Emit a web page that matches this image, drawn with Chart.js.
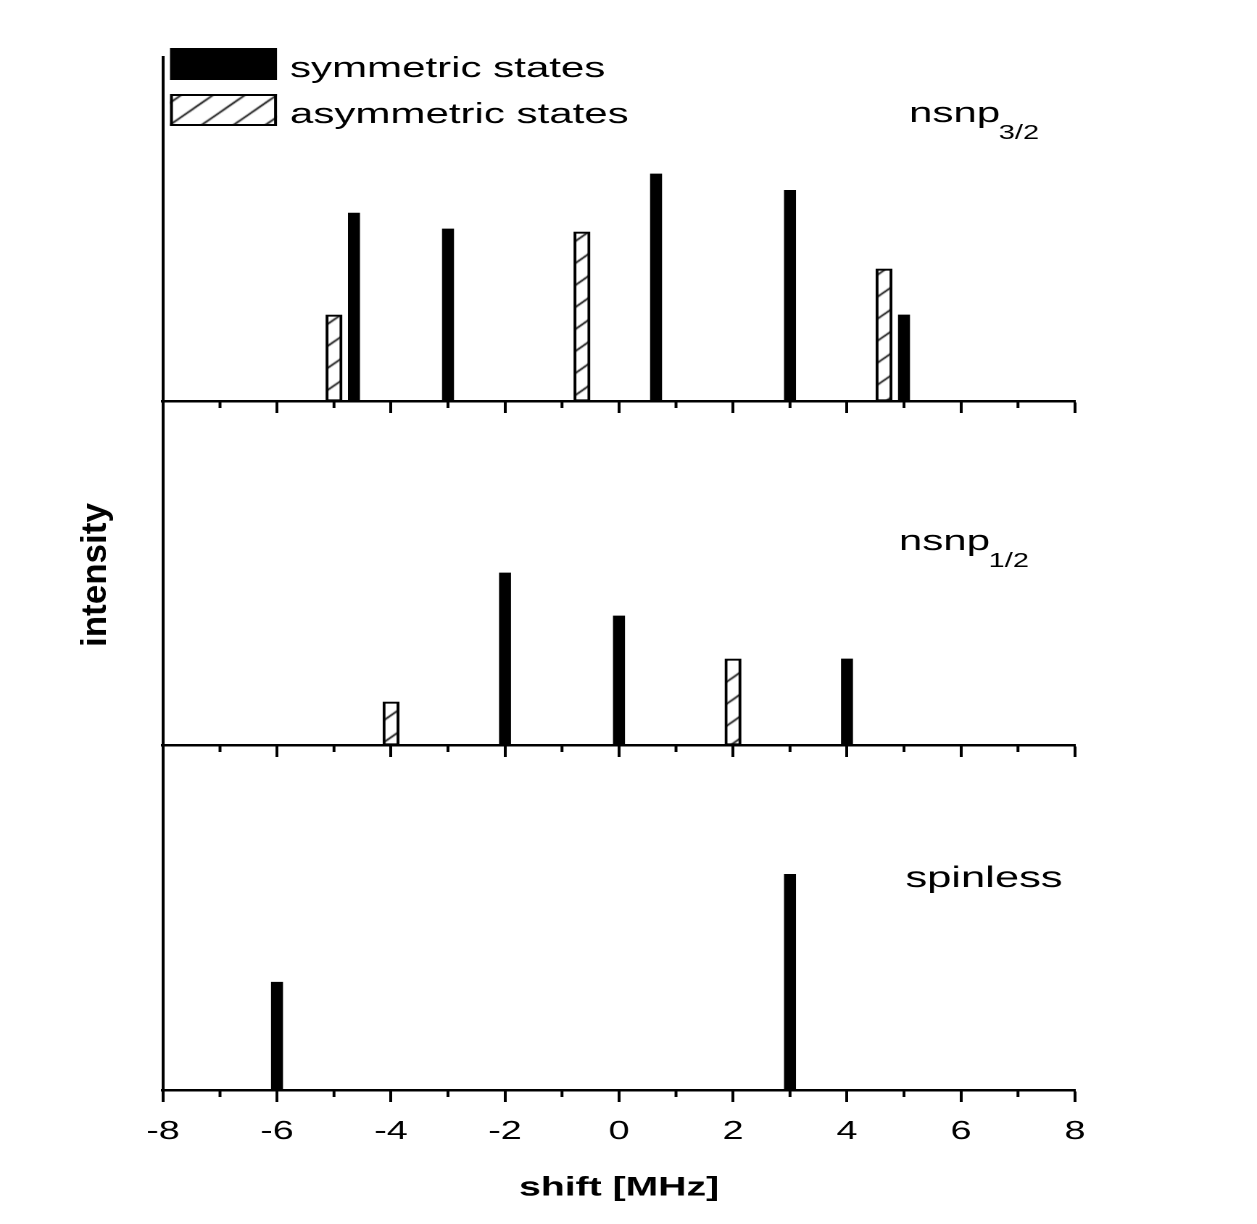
<!DOCTYPE html>
<html>
<head>
<meta charset="utf-8">
<script src="https://cdn.jsdelivr.net/npm/chart.js@4.4.1/dist/chart.umd.min.js"></script>
<style>
  body { margin: 0; background: #fff; }
  #page { position: relative; width: 1257px; height: 1224px; overflow: hidden; }
  #wrap { position: absolute; left: 0; top: 0; width: 867px; height: 1224px;
          transform: scaleX(1.4498); transform-origin: 0 0; }
  #wrap canvas { position: absolute; left: 0; display: block; }
  #ylabel { position: absolute; left: 93.5px; top: 575px; white-space: nowrap;
            transform: translate(-50%, -50%) rotate(-90deg);
            font: bold 35px "Liberation Sans", Arial, sans-serif; color: #000; }
</style>
</head>
<body>
<div id="page">
  <div id="wrap">
    <canvas id="c1"></canvas>
    <canvas id="c2"></canvas>
    <canvas id="c3"></canvas>
  </div>
  <div id="ylabel">intensity</div>
</div>
<script>
// series names
const seriesNames = ['symmetric states', 'asymmetric states'];

// nsnp 3/2 panel
const p32SymShift  = [-4.65, -3, 0.65, 3, 5];
const p32SymInt    = [4.37, 4.0, 5.28, 4.9, 2.0];
const p32AsymShift = [-5, -0.65, 4.65];
const p32AsymInt   = [2.0, 3.93, 3.07];

// nsnp 1/2 panel
const p12SymShift  = [-2, 0, 4];
const p12SymInt    = [4, 3, 2];
const p12AsymShift = [-4, 2];
const p12AsymInt   = [1, 2];

// spinless panel
const spinSymShift = [-6, 3];
const spinSymInt   = [2.5, 5.0];

const panelNames = [['nsnp', '3/2'], ['nsnp', '1/2'], ['spinless', '']];
const xTitle = 'shift [MHz]';
const xMin = -8, xMax = 8;

// the picture is stretched sideways, so the charts are drawn narrow and scaled
const S = 1257 / 867;
const W = 867;
const AXIS_LEFT = 163 / S;
const AXIS_RIGHT = 1075 / S;
const FONT = '"Liberation Sans", Arial, sans-serif';

Chart.defaults.font.family = FONT;
Chart.defaults.color = '#000';

function makeHatch() {
    const tile = document.createElement('canvas');
    tile.width = 22; tile.height = 22;
    const c = tile.getContext('2d');
    c.fillStyle = '#fff';
    c.fillRect(0, 0, 22, 22);
    c.strokeStyle = '#000';
    c.lineWidth = 1.4;
    c.beginPath();
    c.moveTo(0, 22); c.lineTo(22, 0);
    c.moveTo(-2, 2); c.lineTo(2, -2);
    c.moveTo(20, 24); c.lineTo(24, 20);
    c.stroke();
    return c.createPattern(tile, 'repeat');
}
const hatch = makeHatch();

function toPoints(xs, ys) {
    return xs.map(function(x, i) { return {x: x, y: ys[i]}; });
}

function symSet(xs, ys) {
    return {
        label: seriesNames[0],
        data: toPoints(xs, ys),
        backgroundColor: '#000',
        borderWidth: 0,
        barThickness: 7.6,
        grouped: false
    };
}

function asymSet(xs, ys) {
    return {
        label: seriesNames[1],
        data: toPoints(xs, ys),
        backgroundColor: hatch,
        borderColor: '#000',
        borderWidth: 2,
        borderSkipped: false,
        barThickness: 11,
        grouped: false
    };
}

function isOdd(v) {
    return Math.abs(Math.round(v)) % 2 === 1;
}

// short ticks at the odd values
const minorTicks = {
    id: 'minorTicks',
    afterDraw(chart) {
        const xs = chart.scales.x;
        const ctx = chart.ctx;
        ctx.save();
        ctx.strokeStyle = '#000';
        ctx.lineWidth = 2;
        xs.ticks.forEach(function(t) {
            if (isOdd(t.value)) {
                const px = xs.getPixelForValue(t.value);
                ctx.beginPath();
                ctx.moveTo(px, xs.top);
                ctx.lineTo(px, xs.top + 7);
                ctx.stroke();
            }
        });
        ctx.restore();
    }
};

// panel name with subscript
const panelLabel = {
    id: 'panelLabel',
    afterDraw(chart, args, opts) {
        if (!opts.text) return;
        const ctx = chart.ctx;
        ctx.save();
        ctx.fillStyle = '#000';
        ctx.textBaseline = 'alphabetic';
        ctx.font = opts.size + 'px ' + FONT;
        ctx.fillText(opts.text, opts.x, opts.y);
        if (opts.sub) {
            const w = ctx.measureText(opts.text).width;
            ctx.font = opts.subSize + 'px ' + FONT;
            ctx.fillText(opts.sub, opts.x + w - 1, opts.y + 17);
        }
        ctx.restore();
    }
};

// legend boxes inside the top panel
const boxLegend = {
    id: 'boxLegend',
    afterDraw(chart, args, opts) {
        if (!opts.show) return;
        const ctx = chart.ctx;
        const tops = [48, 94];
        const bases = [77, 123];
        ctx.save();
        chart.data.datasets.forEach(function(ds, i) {
            const bx = 170 / S, bw = 107 / S, bh = 32;
            ctx.fillStyle = ds.backgroundColor;
            ctx.fillRect(bx, tops[i], bw, bh);
            if (ds.borderWidth) {
                ctx.strokeStyle = ds.borderColor;
                ctx.lineWidth = 2;
                ctx.strokeRect(bx + 1, tops[i] + 1, bw - 2, bh - 2);
            }
            ctx.fillStyle = '#000';
            ctx.font = '29px ' + FONT;
            ctx.textBaseline = 'alphabetic';
            ctx.fillText(ds.label, 290 / S, bases[i]);
        });
        ctx.restore();
    }
};

function panelChart(id, top, height, padTop, axisH, datasets, label, bottomAxis, legend) {
    const el = document.getElementById(id);
    el.style.top = top + 'px';
    el.width = W;
    el.height = height;
    return new Chart(el, {
        type: 'bar',
        data: { datasets: datasets },
        plugins: [minorTicks, panelLabel, boxLegend],
        options: {
            responsive: false,
            animation: false,
            devicePixelRatio: 2,
            events: [],
            layout: { padding: { top: padTop, left: 0, right: W - AXIS_RIGHT, bottom: 0 } },
            plugins: {
                legend: { display: false },
                tooltip: { enabled: false },
                panelLabel: label,
                boxLegend: { show: legend }
            },
            scales: {
                x: {
                    type: 'linear',
                    min: xMin,
                    max: xMax,
                    offset: false,
                    ticks: {
                        stepSize: 1,
                        autoSkip: false,
                        maxRotation: 0,
                        display: bottomAxis,
                        padding: 14,
                        font: { size: 26 },
                        callback: function(v) { return isOdd(v) ? '' : String(v); }
                    },
                    grid: {
                        offset: false,
                        drawOnChartArea: false,
                        drawTicks: true,
                        tickLength: 12,
                        tickWidth: 2,
                        tickColor: function(c) {
                            if (!c.tick) return '#000';
                            return isOdd(c.tick.value) ? 'rgba(0,0,0,0)' : '#000';
                        }
                    },
                    border: { display: true, color: '#000', width: 2.5 },
                    title: {
                        display: bottomAxis,
                        text: xTitle,
                        font: { size: 27, weight: 'bold' },
                        padding: { top: 0, bottom: 20 }
                    },
                    afterFit: function(s) { s.height = axisH; }
                },
                y: {
                    min: 0,
                    max: 8,
                    ticks: { display: false },
                    grid: { display: false, drawTicks: false },
                    border: { display: true, color: '#000', width: 2 },
                    afterFit: function(s) { s.width = AXIS_LEFT; }
                }
            }
        }
    });
}

panelChart('c1', 0, 420, 57, 19,
    [symSet(p32SymShift, p32SymInt), asymSet(p32AsymShift, p32AsymInt)],
    { text: panelNames[0][0], sub: panelNames[0][1], x: 627, y: 122, size: 29, subSize: 20 },
    false, true);

panelChart('c2', 391, 373, 10, 19,
    [symSet(p12SymShift, p12SymInt), asymSet(p12AsymShift, p12AsymInt)],
    { text: panelNames[1][0], sub: panelNames[1][1], x: 620, y: 159, size: 29, subSize: 20 },
    false, false);

panelChart('c3', 735, 489, 10, 134,
    [symSet(spinSymShift, spinSymInt)],
    { text: panelNames[2][0], sub: panelNames[2][1], x: 624.5, y: 152, size: 30, subSize: 20 },
    true, false);
</script>
</body>
</html>
